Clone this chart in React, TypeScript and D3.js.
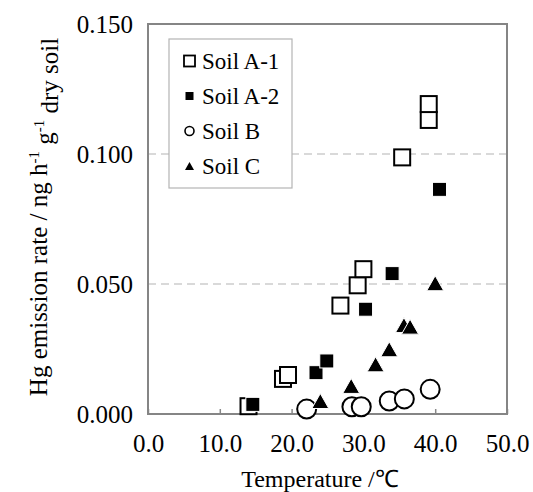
import React, { useEffect, useRef } from "react";
import * as d3 from "d3";

// temperature (°C), emission rate (ng h-1 g-1 dry soil)
const soilA1 = [
  [14.0, 0.003], [18.8, 0.0135], [19.5, 0.015], [26.8, 0.0417], [29.2, 0.0495],
  [30.0, 0.0557], [35.4, 0.0987], [39.1, 0.1131], [39.1, 0.1192],
];
const soilA2 = [
  [14.6, 0.0037], [23.4, 0.0159], [24.9, 0.0204], [30.3, 0.0403], [34.0, 0.054], [40.6, 0.0864],
];
const soilB = [
  [22.1, 0.0019], [28.4, 0.0028], [29.7, 0.0028], [33.6, 0.005], [35.7, 0.0058], [39.3, 0.0095],
];
const soilC = [
  [24.0, 0.005], [28.3, 0.0108], [31.7, 0.0191], [33.6, 0.0249], [35.65, 0.0342],
  [36.5, 0.0336], [40.0, 0.0503],
];
const xTicks = [0, 10, 20, 30, 40, 50];
const yTicks = [0, 0.05, 0.1, 0.15];
const gridValues = [0.05, 0.1];
const legendLabels = ["Soil A-1", "Soil A-2", "Soil B", "Soil C"];

const FONT = "Liberation Serif, Times New Roman, serif";

function triPath(cx: number, cy: number, w: number, h: number) {
  return `M${cx - w / 2},${cy + h / 2}L${cx + w / 2},${cy + h / 2}L${cx},${cy - h / 2}Z`;
}

export default function App() {
  const ref = useRef<SVGSVGElement>(null);

  useEffect(() => {
    const svg = d3.select(ref.current);
    svg.selectAll("*").remove();

    const left = 148, right = 507, top = 24, bottom = 414;
    const x = d3.scaleLinear().domain([0, 50]).range([left, right]);
    const y = d3.scaleLinear().domain([0, 0.15]).range([bottom, top]);

    // gridlines
    svg.append("g")
      .selectAll("line")
      .data(gridValues)
      .join("line")
      .attr("x1", left)
      .attr("x2", right)
      .attr("y1", d => y(d))
      .attr("y2", d => y(d))
      .attr("stroke", "#b4b4b4")
      .attr("stroke-width", 1.2)
      .attr("stroke-dasharray", "8,5");

    // x axis
    const xAxis = svg.append("g")
      .attr("transform", `translate(0,${bottom})`)
      .call(d3.axisBottom(x).tickValues(xTicks).tickSizeInner(-5).tickSizeOuter(0).tickFormat(d3.format(".1f")))
      .attr("font-family", FONT)
      .attr("font-size", 25);
    xAxis.select(".domain").remove();
    xAxis.selectAll("line").attr("stroke", "#888").attr("stroke-width", 1.5);
    xAxis.selectAll("text")
      .attr("y", 38)
      .attr("dy", 0)
      .attr("fill", "#000");

    // y axis
    const yAxis = svg.append("g")
      .attr("transform", `translate(${left},0)`)
      .call(d3.axisLeft(y).tickValues(yTicks).tickSize(0).tickPadding(15).tickFormat(d3.format(".3f")))
      .attr("font-family", FONT)
      .attr("font-size", 25);
    yAxis.select(".domain").remove();
    yAxis.selectAll("text")
      .attr("dy", "0.35em")
      .attr("fill", "#000");

    // plot frame
    svg.append("rect")
      .attr("x", left)
      .attr("y", top)
      .attr("width", right - left)
      .attr("height", bottom - top)
      .attr("fill", "none")
      .attr("stroke", "#858585")
      .attr("stroke-width", 2);

    // Soil A-1
    svg.append("g")
      .selectAll("rect")
      .data(soilA1)
      .join("rect")
      .attr("x", d => x(d[0]) - 8)
      .attr("y", d => y(d[1]) - 8)
      .attr("width", 16)
      .attr("height", 16)
      .attr("fill", "#fff")
      .attr("stroke", "#000")
      .attr("stroke-width", 2);

    // Soil A-2
    svg.append("g")
      .selectAll("rect")
      .data(soilA2)
      .join("rect")
      .attr("x", d => x(d[0]) - 7)
      .attr("y", d => y(d[1]) - 7)
      .attr("width", 14)
      .attr("height", 14)
      .attr("fill", "#000")
      .attr("stroke", "#fff")
      .attr("stroke-width", 1);

    // Soil B
    svg.append("g")
      .selectAll("circle")
      .data(soilB)
      .join("circle")
      .attr("cx", d => x(d[0]))
      .attr("cy", d => y(d[1]))
      .attr("r", 9.5)
      .attr("fill", "#fff")
      .attr("stroke", "#000")
      .attr("stroke-width", 2);

    // Soil C
    svg.append("g")
      .selectAll("path")
      .data(soilC)
      .join("path")
      .attr("d", d => triPath(x(d[0]), y(d[1]), 17, 15))
      .attr("fill", "#000")
      .attr("stroke", "#fff")
      .attr("stroke-width", 1);

    // legend
    const legend = svg.append("g");
    legend.append("rect")
      .attr("x", 169)
      .attr("y", 39)
      .attr("width", 123)
      .attr("height", 149)
      .attr("fill", "#fff")
      .attr("stroke", "#b4b4b4")
      .attr("stroke-width", 1.2);

    legendLabels.forEach((label, i) => {
      const cy = 61 + i * 35;
      const cx = 189.5;
      if (i === 0) {
        legend.append("rect").attr("x", cx - 5.5).attr("y", cy - 5.5).attr("width", 11).attr("height", 11)
          .attr("fill", "#fff").attr("stroke", "#000").attr("stroke-width", 1.8);
      } else if (i === 1) {
        legend.append("rect").attr("x", cx - 4).attr("y", cy - 4).attr("width", 8).attr("height", 8).attr("fill", "#000");
      } else if (i === 2) {
        legend.append("circle").attr("cx", cx).attr("cy", cy).attr("r", 4.5)
          .attr("fill", "#fff").attr("stroke", "#000").attr("stroke-width", 1.6);
      } else {
        legend.append("path").attr("d", triPath(cx, cy, 9, 8)).attr("fill", "#000");
      }
      legend.append("text")
        .attr("x", 202)
        .attr("y", cy + 7.5)
        .attr("font-family", FONT)
        .attr("font-size", 23)
        .text(label);
    });

    // x title
    svg.append("text")
      .attr("x", 320)
      .attr("y", 487)
      .attr("text-anchor", "middle")
      .attr("font-family", FONT)
      .attr("font-size", 24)
      .text("Temperature /℃");

    // y title
    const yt = svg.append("text")
      .attr("transform", `translate(47,217) rotate(-90)`)
      .attr("text-anchor", "middle")
      .attr("font-family", FONT)
      .attr("font-size", 25);
    yt.append("tspan").text("Hg emission rate / ng h");
    yt.append("tspan").attr("dy", "-0.55em").attr("font-size", 15).text("-1");
    yt.append("tspan").attr("dy", "0.55em").text(" g");
    yt.append("tspan").attr("dy", "-0.55em").attr("font-size", 15).text("-1");
    yt.append("tspan").attr("dy", "0.55em").text(" dry soil");
  }, []);

  return (
    <div style={{ position: "absolute", left: 0, top: 0 }}>
      <svg ref={ref} width={533} height={492} style={{ display: "block", background: "#fff" }}></svg>
    </div>
  );
}
